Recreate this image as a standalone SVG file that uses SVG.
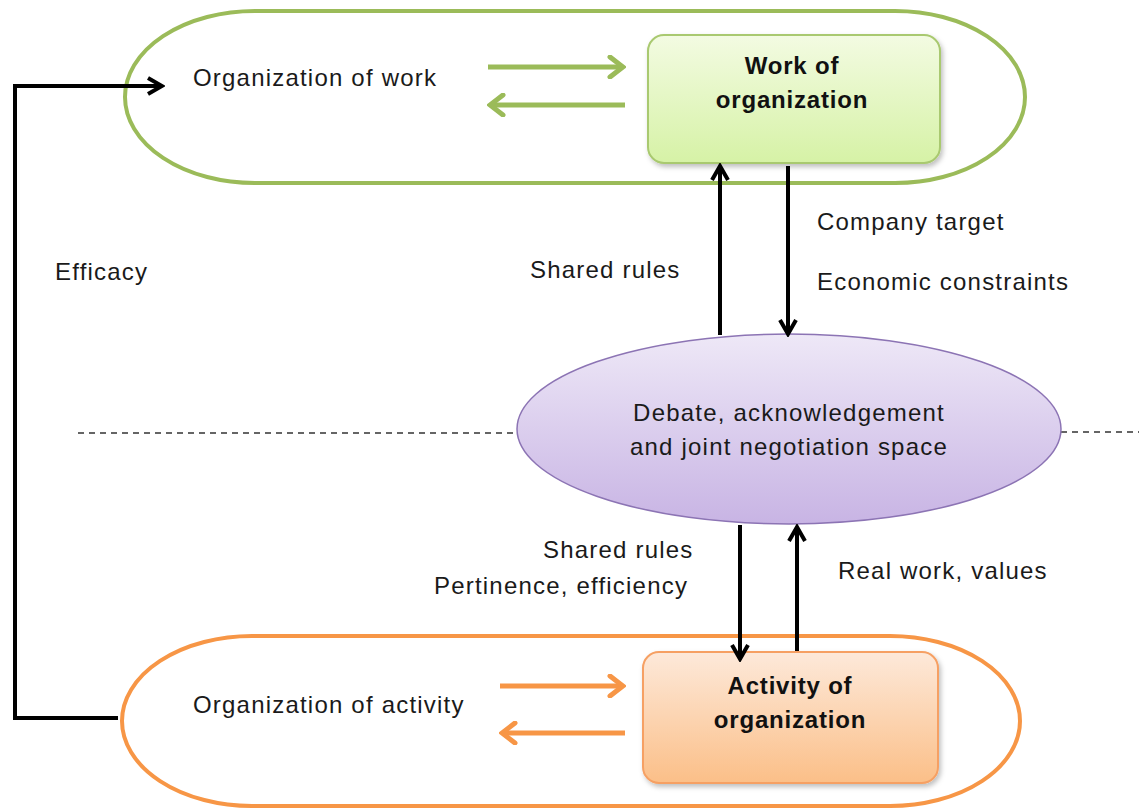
<svg xmlns="http://www.w3.org/2000/svg" width="1139" height="810" viewBox="0 0 1139 810">
<style>
.t{font-family:"Liberation Sans",Arial,sans-serif;font-size:24px;letter-spacing:1.2px;fill:#1a1a1a}
.b{font-weight:bold;letter-spacing:0.8px;fill:#111}
.c{text-anchor:middle}
.k{fill:none;stroke:#000;stroke-width:4}
.g{fill:none;stroke:#9bbb59;stroke-width:5}
.o{fill:none;stroke:#f79646;stroke-width:5}
</style>
<defs>
<linearGradient id="gg" x1="0" y1="0" x2="0" y2="1"><stop offset="0" stop-color="#f3fbe2"/><stop offset="1" stop-color="#d6f2a6"/></linearGradient>
<linearGradient id="og" x1="0" y1="0" x2="0" y2="1"><stop offset="0" stop-color="#fde9da"/><stop offset="1" stop-color="#fbbf88"/></linearGradient>
<linearGradient id="pg" x1="0" y1="0" x2="0" y2="1"><stop offset="0" stop-color="#eee8f7"/><stop offset="1" stop-color="#c8b4e4"/></linearGradient>
<filter id="sh" x="-10%" y="-10%" width="130%" height="130%"><feDropShadow dx="2" dy="3" stdDeviation="2.5" flood-color="#000" flood-opacity="0.25"/></filter>
<marker id="mk" viewBox="0 0 20 20" refX="17" refY="10" markerWidth="20" markerHeight="20" markerUnits="userSpaceOnUse" orient="auto"><path d="M3,2 L17,10 L3,18" fill="none" stroke="#000" stroke-width="4" stroke-linejoin="miter"/></marker>
<marker id="mg" viewBox="0 0 20 24" refX="17" refY="12" markerWidth="20" markerHeight="24" markerUnits="userSpaceOnUse" orient="auto"><path d="M4,2 L17,12 L4,22" fill="none" stroke="#9bbb59" stroke-width="5" stroke-linecap="round"/></marker>
<marker id="mo" viewBox="0 0 20 24" refX="17" refY="12" markerWidth="20" markerHeight="24" markerUnits="userSpaceOnUse" orient="auto"><path d="M4,2 L17,12 L4,22" fill="none" stroke="#f79646" stroke-width="5" stroke-linecap="round"/></marker>
</defs>
<rect width="1139" height="810" fill="#fff"/>

<g id="dashed-line">
<line x1="78" y1="433" x2="518" y2="433" stroke="#333" stroke-width="1.3" stroke-dasharray="6,5"/>
<line x1="1061" y1="432" x2="1139" y2="432" stroke="#333" stroke-width="1.3" stroke-dasharray="6,5"/>
</g>

<g id="work-group">
<rect x="125" y="11" width="900" height="172" rx="130" ry="86" fill="none" stroke="#9bbb59" stroke-width="4"/>
<text class="t" x="193" y="86">Organization of work</text>
</g>

<g id="work-of-organization">
<rect x="648" y="35" width="292" height="128" rx="16" fill="url(#gg)" stroke="#a9c96f" stroke-width="2" filter="url(#sh)"/>
<text class="t b c" x="792" y="74">Work of</text>
<text class="t b c" x="792" y="108">organization</text>
</g>

<g id="activity-group">
<rect x="122" y="636" width="898" height="170" rx="130" ry="85" fill="none" stroke="#f79646" stroke-width="4"/>
<text class="t" x="193" y="713">Organization of activity</text>
</g>

<g id="activity-of-organization">
<rect x="643" y="652" width="295" height="131" rx="16" fill="url(#og)" stroke="#f6a063" stroke-width="2" filter="url(#sh)"/>
<text class="t b c" x="790" y="694">Activity of</text>
<text class="t b c" x="790" y="728">organization</text>
</g>

<g id="debate-space">
<ellipse cx="789" cy="429" rx="272" ry="95" fill="url(#pg)" stroke="#8c74b4" stroke-width="1.5"/>
<text class="t c" x="789" y="421">Debate, acknowledgement</text>
<text class="t c" x="789" y="455">and joint negotiation space</text>
</g>

<g id="connectors">
<line class="g" x1="488" y1="67" x2="623" y2="67" marker-end="url(#mg)"/>
<line class="g" x1="625" y1="105" x2="490" y2="105" marker-end="url(#mg)"/>
<line class="o" x1="500" y1="686" x2="623" y2="686" marker-end="url(#mo)"/>
<line class="o" x1="625" y1="733" x2="502" y2="733" marker-end="url(#mo)"/>
<polyline class="k" points="118,718 15,718 15,86 162,86" marker-end="url(#mk)"/>
<line class="k" x1="720" y1="335" x2="720" y2="166" marker-end="url(#mk)"/>
<line class="k" x1="788" y1="166" x2="788" y2="334" marker-end="url(#mk)"/>
<line class="k" x1="740" y1="525" x2="740" y2="659" marker-end="url(#mk)"/>
<line class="k" x1="797" y1="651" x2="797" y2="527" marker-end="url(#mk)"/>
</g>

<g id="labels">
<text class="t" x="55" y="280">Efficacy</text>
<text class="t" x="530" y="278">Shared rules</text>
<text class="t" x="817" y="230">Company target</text>
<text class="t" x="817" y="290">Economic constraints</text>
<text class="t" x="543" y="558">Shared rules</text>
<text class="t" x="434" y="594">Pertinence, efficiency</text>
<text class="t" x="838" y="579">Real work, values</text>
</g>
</svg>
